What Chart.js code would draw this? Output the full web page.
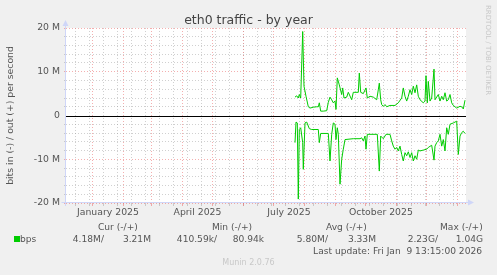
<!DOCTYPE html>
<html>
<head>
<meta charset="utf-8">
<script src="https://cdn.jsdelivr.net/npm/chart.js@4/dist/chart.umd.min.js"></script>
<style>
  body { margin: 0; background: #f0f0f0; }
  #wrap { position: relative; width: 497px; height: 275px; overflow: hidden;
          font-family: "DejaVu Sans", sans-serif; color: #555; }
  #wrap canvas { position: absolute; left: 0; top: 0; }
  .t { position: absolute; font-size: 9.1px; line-height: 12px; white-space: pre; }
  .r { text-align: right; }
  .sq { position: absolute; left: 14px; top: 236px; width: 6px; height: 6px; background: #00cc00; }
  .mark { position: absolute; color: #c8c8c8; font-size: 7px; white-space: pre; }
  #title { position: absolute; left: 0; width: 497px; top: 12px; text-align: center;
           font-size: 12.5px; line-height: 16px; color: #444; }
</style>
</head>
<body>
<div id="wrap">
  <canvas id="chart" width="497" height="275"></canvas>
  <div id="title">eth0 traffic - by year</div>

  <div class="t" style="left:98px;top:221px">Cur (-/+)</div>
  <div class="t" style="left:212px;top:221px">Min (-/+)</div>
  <div class="t" style="left:326px;top:221px">Avg (-/+)</div>
  <div class="t" style="left:440px;top:221px">Max (-/+)</div>

  <div class="sq"></div>
  <div class="t" style="left:20px;top:233px">bps</div>
  <div class="t r" style="right:393px;top:233px">4.18M/</div>
  <div class="t r" style="right:346px;top:233px">3.21M</div>
  <div class="t r" style="right:280px;top:233px">410.59k/</div>
  <div class="t r" style="right:233px;top:233px">80.94k</div>
  <div class="t r" style="right:169px;top:233px">5.80M/</div>
  <div class="t r" style="right:121px;top:233px">3.33M</div>
  <div class="t r" style="right:59px;top:233px">2.23G/</div>
  <div class="t r" style="right:14px;top:233px">1.04G</div>

  <div class="t r" style="right:15px;top:245px">Last update: Fri Jan  9 13:15:00 2026</div>
  <div class="t" style="left:0;width:497px;text-align:center;top:257px;color:#c8c8c8;font-size:8px">Munin 2.0.76</div>

  <div class="mark" style="left:484px;top:5px;writing-mode:vertical-rl">RRDTOOL / TOBI OETIKER</div>
</div>

<script>
// days since the left edge of the 400 day window, and Mbit/s
const outDays = [229, 230.7, 232.3, 233.3, 234.7, 236.7, 238, 240, 242.3, 244, 247.3, 250.7, 252.3,
  253.3, 254.7, 257.3, 260.7, 262.3, 264, 265.7, 267.3, 269, 270, 271.3, 273.3, 275.7, 276.7, 278,
  280.7, 282.3, 285.7, 287.3, 292.3, 293.3, 294.7, 297.3, 300, 301.3, 304, 307.3, 310.7, 312.3,
  313.3, 314.7, 315.7, 317.3, 319, 320.7, 324, 329, 332.3, 335.7, 337.3, 339, 340.7, 342.3, 344,
  345.7, 347.3, 349, 350.7, 352.3, 354, 357.3, 359, 360, 361.3, 362.3, 364, 365.7, 368, 369, 372.3,
  374, 375.7, 377.3, 379, 380.7, 382.3, 384, 385.7, 387.3, 390.7, 394, 395.7, 397.3, 399];
const outMbps = [4.2, 4.5, 4.0, 4.8, 4.0, 19.2, 6.7, 4.4, 2.0, 1.7, 1.9, 2.0, 2.0,
  2.9, 1.0, 1.0, 1.1, 3.0, 4.2, 3.6, 2.9, 3.3, 1.4, 8.6, 7.0, 4.8, 6.3, 4.0,
  4.2, 5.3, 3.6, 5.3, 5.3, 9.7, 5.3, 5.0, 6.3, 4.0, 4.4, 4.2, 3.6, 5.9,
  7.4, 3.6, 2.5, 2.1, 2.5, 2.0, 2.3, 2.3, 2.9, 4.0, 6.3, 4.4, 3.3, 4.4, 5.9,
  4.8, 6.7, 5.2, 7.0, 4.4, 3.6, 2.9, 3.3, 9.1, 2.9, 7.8, 3.3, 4.0, 10.6, 3.6, 4.8,
  3.3, 4.4, 3.6, 5.2, 3.3, 3.6, 4.8, 2.9, 2.3, 1.7, 2.1, 2.0, 1.5, 3.5];

const inDays = [229, 230, 231.3, 232.3, 233.3, 234.7, 236.7, 237.3, 239, 240.7, 243.3, 245.7,
  252.3, 253.3, 254.7, 262.3, 264, 265.7, 267.3, 269, 270, 271.3, 272.3, 274, 275.7, 277.3, 279,
  287.3, 294, 295.7, 297.3, 299, 300, 301.3, 311.3, 313.3, 314.7, 317.3, 320, 324, 325.7, 327.3,
  329, 330.7, 332.3, 334, 335.7, 337.3, 339, 340.7, 342.3, 344, 345.7, 347.3, 349, 350.7, 352.3,
  354, 357.3, 360.7, 362.3, 365.7, 368, 369, 370.7, 372.3, 374, 375.7, 377.3, 379, 380.7, 382.3,
  384, 387.3, 390.7, 392.3, 394, 395.7, 397.3, 399];
const inMbps = [6.2, 1.5, 1.7, 19.1, 3.2, 2.8, 6.2, 12.3, 1.7, 1.5, 3.0, 3.2,
  3.2, 6.2, 4.1, 4.1, 10.4, 4.3, 1.7, 2.0, 5.5, 2.8, 4.3, 15.7, 10.0, 7.7, 5.5,
  5.3, 5.3, 5.1, 5.8, 4.7, 7.7, 4.3, 4.3, 12.7, 4.7, 5.3, 4.3, 4.3, 5.8, 7.0,
  7.7, 7.3, 8.1, 7.0, 8.9, 10.4, 8.5, 9.2, 8.3, 9.6, 8.5, 10.4, 9.2, 10.0, 7.9,
  8.1, 7.9, 7.7, 7.3, 6.8, 10.2, 7.0, 6.2, 5.8, 4.3, 7.0, 5.5, 8.1, 2.8, 4.3,
  2.0, 1.7, 1.3, 8.9, 4.7, 3.9, 3.6, 4.1];

// time axis: [year, month] of month grid lines, labelled months, 2-week minor lines
const gridMonths = [[2025, 0], [2025, 1], [2025, 2], [2025, 3], [2025, 4], [2025, 5], [2025, 6],
  [2025, 7], [2025, 8], [2025, 9], [2025, 10], [2025, 11], [2026, 0]];
const labelMonths = [[2025, 0], [2025, 3], [2025, 6], [2025, 9]];
const monthNames = ['January', 'February', 'March', 'April', 'May', 'June', 'July',
  'August', 'September', 'October', 'November', 'December'];
const yTicks = [-20, -10, 0, 10, 20];

const DAY = 86400000;
const lastUpdate = Date.UTC(2026, 0, 9, 13, 15);
const rangeStart = lastUpdate - 400 * DAY;
const toDay = (t) => (t - rangeStart) / DAY;

const MAJOR = 'rgba(235, 110, 110, 0.55)';
const MINOR = 'rgba(150, 150, 150, 0.45)';
const AXIS = '#cfd6f8';

const frame = {
  id: 'frame',
  beforeDraw(chart) {
    const { ctx, chartArea: a } = chart;
    ctx.save();
    ctx.fillStyle = '#f0f0f0';
    ctx.fillRect(0, 0, chart.width, chart.height);
    ctx.fillStyle = '#ffffff';
    ctx.fillRect(a.left, a.top, a.right - a.left, a.bottom - a.top);
    ctx.restore();
  },
  afterDraw(chart) {
    const { ctx, chartArea: a } = chart;
    const y0 = Math.round(chart.scales.y.getPixelForValue(0)) + 0.5;
    ctx.save();
    ctx.lineWidth = 1;
    ctx.strokeStyle = '#000';
    ctx.beginPath();
    ctx.moveTo(a.left, y0);
    ctx.lineTo(a.right, y0);
    ctx.stroke();

    // axes with arrows
    const xb = Math.round(a.bottom) - 0.5;
    const xl = Math.round(a.left) - 0.5;
    ctx.strokeStyle = AXIS;
    ctx.fillStyle = AXIS;
    ctx.beginPath();
    ctx.moveTo(xl - 4, xb);
    ctx.lineTo(a.right + 3, xb);
    ctx.moveTo(xl, a.bottom + 3);
    ctx.lineTo(xl, a.top - 3);
    ctx.stroke();
    ctx.beginPath();
    ctx.moveTo(a.right + 2, xb - 3);
    ctx.lineTo(a.right + 8, xb);
    ctx.lineTo(a.right + 2, xb + 3);
    ctx.closePath();
    ctx.fill();
    ctx.beginPath();
    ctx.moveTo(xl - 3, a.top - 2);
    ctx.lineTo(xl, a.top - 8);
    ctx.lineTo(xl + 3, a.top - 2);
    ctx.closePath();
    ctx.fill();
    ctx.restore();
  }
};

const lineStyle = {
  borderColor: '#00cc00',
  borderWidth: 1,
  pointRadius: 0,
  fill: false,
  tension: 0
};

const gridColor = (kind) => kind === 'major' ? MAJOR : kind === 'minor' ? MINOR : 'transparent';
const yKind = (value) => {
  const m = Math.round(value / 1e6);
  if (m === 0) return 'none';
  return m % 10 === 0 ? 'major' : 'minor';
};

new Chart(document.getElementById('chart'), {
  type: 'line',
  data: {
    datasets: [
      { ...lineStyle, label: 'out', data: outDays.map((d, i) => ({ x: d, y: outMbps[i] * 1e6 })) },
      { ...lineStyle, label: 'in', data: inDays.map((d, i) => ({ x: d, y: -inMbps[i] * 1e6 })) }
    ]
  },
  options: {
    responsive: false,
    animation: false,
    events: [],
    layout: { padding: { left: 0, right: 31, top: 28, bottom: 52 } },
    plugins: {
      legend: { display: false },
      tooltip: { enabled: false }
    },
    scales: {
      x: {
        type: 'linear',
        min: 0,
        max: 400,
        afterFit: (scale) => { scale.height = 20; },
        afterBuildTicks: (scale) => {
          const ticks = [];
          for (let t = Date.UTC(2024, 11, 15); t < lastUpdate; t += 14 * DAY) {
            ticks.push({ value: toDay(t), kind: 'minor' });
          }
          gridMonths.forEach(([y, m]) => ticks.push({ value: toDay(Date.UTC(y, m, 1)), kind: 'major' }));
          labelMonths.forEach(([y, m]) => {
            const mid = (Date.UTC(y, m, 1) + Date.UTC(y, m + 1, 1)) / 2;
            ticks.push({ value: toDay(mid), kind: 'label', label: monthNames[m] + ' ' + y });
          });
          scale.ticks = ticks.filter((t) => t.value >= 0 && t.value <= 400)
            .sort((a, b) => a.value - b.value);
        },
        ticks: {
          autoSkip: false,
          maxRotation: 0,
          padding: 1,
          color: '#555',
          font: { family: '"DejaVu Sans", sans-serif', size: 9.3 },
          callback: (v, i, ticks) => ticks[i].label || ''
        },
        grid: {
          color: (c) => gridColor(c.tick.kind),
          tickColor: (c) => gridColor(c.tick.kind),
          tickLength: 3,
          lineWidth: 1
        },
        border: { display: false, dash: [1, 2] }
      },
      y: {
        min: -20e6,
        max: 20e6,
        afterFit: (scale) => { scale.width = 66; },
        ticks: {
          stepSize: 2e6,
          autoSkip: false,
          padding: 4,
          color: '#555',
          font: { family: '"DejaVu Sans", sans-serif', size: 9.3 },
          callback: (v) => {
            const m = Math.round(v / 1e6);
            if (!yTicks.includes(m)) return '';
            return m === 0 ? '0' : m + ' M';
          }
        },
        grid: {
          color: (c) => gridColor(yKind(c.tick.value)),
          tickColor: (c) => gridColor(yKind(c.tick.value)),
          tickLength: 2
        },
        border: { display: false, dash: [1, 2] },
        title: {
          display: true,
          text: 'bits in (-) / out (+) per second',
          color: '#555',
          font: { family: '"DejaVu Sans", sans-serif', size: 9.3 },
          padding: { top: 5, bottom: 0 }
        }
      }
    }
  },
  plugins: [frame]
});
</script>
</body>
</html>
